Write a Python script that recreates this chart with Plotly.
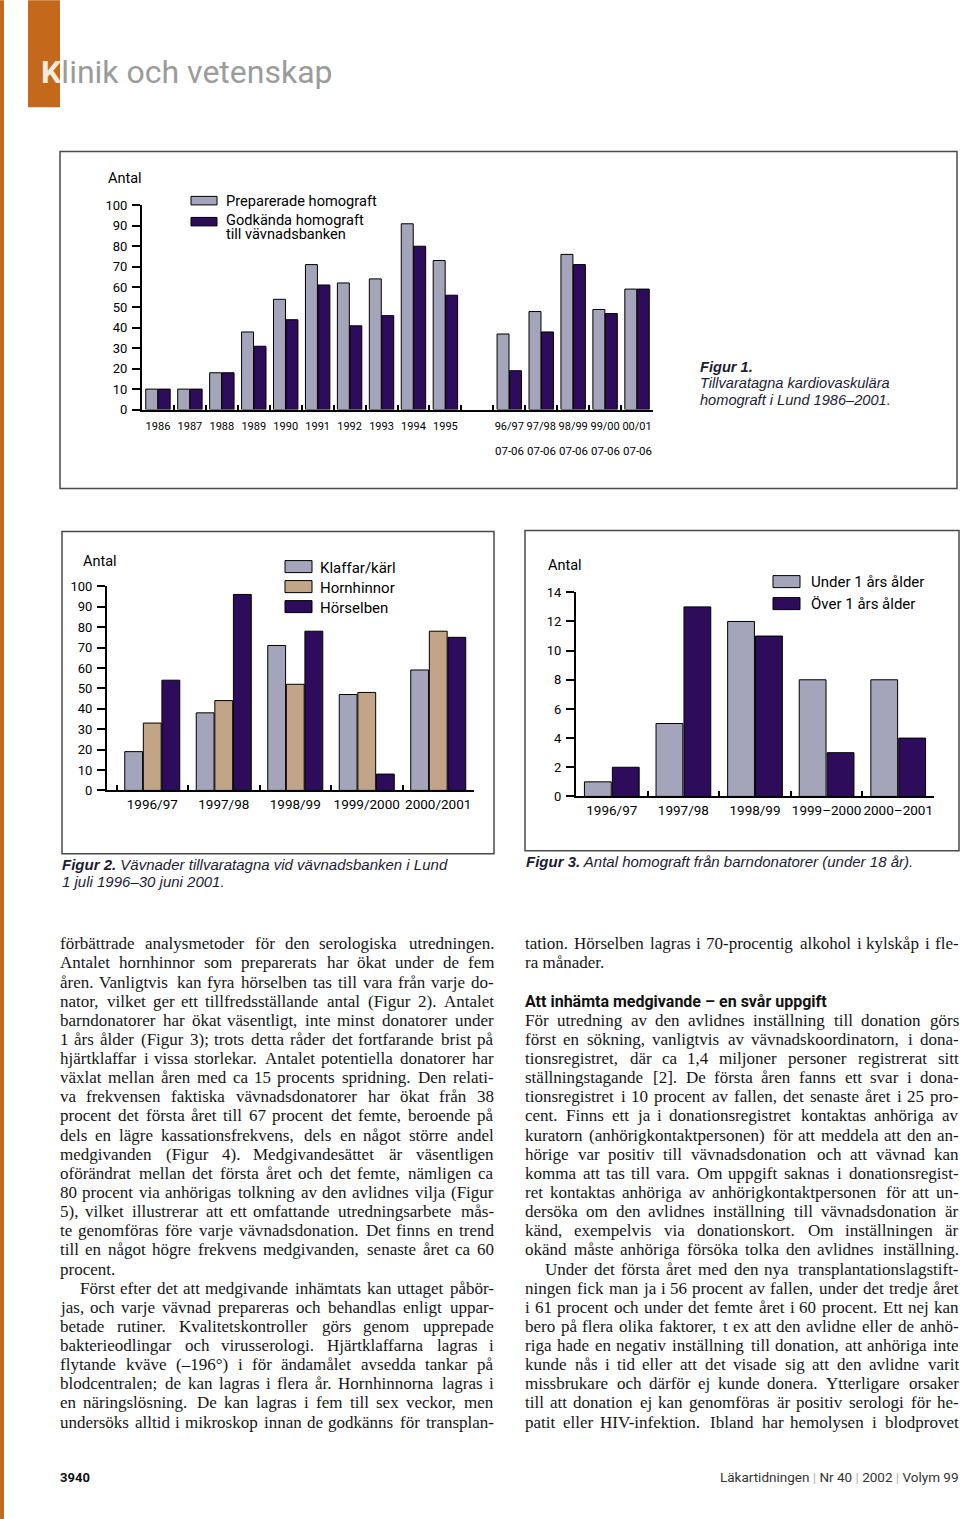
import plotly.graph_objects as go

W, H = 960, 1519
# the page photo shows a small vertical offset/scale; compensate it
Y_OFF, Y_SC = 6.7, 0.9896
def X(px):
    return px / W
def Y(py):
    return 1 - ((py - Y_OFF) / Y_SC) / H

# ---------------- data ----------------
fig1_years = ['1986', '1987', '1988', '1989', '1990', '1991', '1992', '1993', '1994', '1995']
fig1_gap = [' ']
fig1_seasons = ['96/97', '97/98', '98/99', '99/00', '00/01']
fig1_season_sub = ['07-06', '07-06', '07-06', '07-06', '07-06']
fig1_cats = fig1_years + fig1_gap + fig1_seasons
preparerade = [10, 10, 18, 38, 54, 71, 62, 64, 91, 73, None, 37, 48, 76, 49, 59]
godkanda = [10, 10, 18, 31, 44, 61, 41, 46, 80, 56, None, 19, 38, 71, 47, 59]
fig1_yticks = [0, 10, 20, 30, 40, 50, 60, 70, 80, 90, 100]

fig2_cats = ['1996/97', '1997/98', '1998/99', '1999/2000', '2000/2001']
klaffar = [19, 38, 71, 47, 59]
hornhinnor = [33, 44, 52, 48, 78]
horselben = [54, 96, 78, 8, 75]
fig2_yticks = [0, 10, 20, 30, 40, 50, 60, 70, 80, 90, 100]

fig3_cats = ['1996/97', '1997/98', '1998/99', '1999–2000', '2000–2001']
under1 = [1, 5, 12, 8, 8]
over1 = [2, 13, 11, 3, 4]
fig3_yticks = [0, 2, 4, 6, 8, 10, 12, 14]

left_lines = [
    "förbättrade analysmetoder för den serologiska utredningen.",
    "Antalet hornhinnor som preparerats har ökat under de fem",
    "åren. Vanligtvis kan fyra hörselben tas till vara från varje do-",
    "nator, vilket ger ett tillfredsställande antal (Figur 2). Antalet",
    "barndonatorer har ökat väsentligt, inte minst donatorer under",
    "1 års ålder (Figur 3); trots detta råder det fortfarande brist på",
    "hjärtklaffar i vissa storlekar. Antalet potentiella donatorer har",
    "växlat mellan åren med ca 15 procents spridning. Den relati-",
    "va frekvensen faktiska vävnadsdonatorer har ökat från 38",
    "procent det första året till 67 procent det femte, beroende på",
    "dels en lägre kassationsfrekvens, dels en något större andel",
    "medgivanden (Figur 4). Medgivandesättet är väsentligen",
    "oförändrat mellan det första året och det femte, nämligen ca",
    "80 procent via anhörigas tolkning av den avlidnes vilja (Figur",
    "5), vilket illustrerar att ett omfattande utredningsarbete mås-",
    "te genomföras före varje vävnadsdonation. Det finns en trend",
    "till en något högre frekvens medgivanden, senaste året ca 60",
    "procent.",
    "Först efter det att medgivande inhämtats kan uttaget påbör-",
    "jas, och varje vävnad prepareras och behandlas enligt uppar-",
    "betade rutiner. Kvalitetskontroller görs genom upprepade",
    "bakterieodlingar och virusserologi. Hjärtklaffarna lagras i",
    "flytande kväve (–196°) i för ändamålet avsedda tankar på",
    "blodcentralen; de kan lagras i flera år. Hornhinnorna lagras i",
    "en näringslösning. De kan lagras i fem till sex veckor, men",
    "undersöks alltid i mikroskop innan de godkänns för transplan-",
]
left_indent = {18}
left_nojust = {17}

right_heading = "Att inhämta medgivande – en svår uppgift"
right_lines = [
    "tation. Hörselben lagras i 70-procentig alkohol i kylskåp i fle-",
    "ra månader.",
    "",
    "",
    "För utredning av den avlidnes inställning till donation görs",
    "först en sökning, vanligtvis av vävnadskoordinatorn, i dona-",
    "tionsregistret, där ca 1,4 miljoner personer registrerat sitt",
    "ställningstagande [2]. De första åren fanns ett svar i dona-",
    "tionsregistret i 10 procent av fallen, det senaste året i 25 pro-",
    "cent. Finns ett ja i donationsregistret kontaktas anhöriga av",
    "kuratorn (anhörigkontaktpersonen) för att meddela att den an-",
    "hörige var positiv till vävnadsdonation och att vävnad kan",
    "komma att tas till vara. Om uppgift saknas i donationsregist-",
    "ret kontaktas anhöriga av anhörigkontaktpersonen för att un-",
    "dersöka om den avlidnes inställning till vävnadsdonation är",
    "känd, exempelvis via donationskort. Om inställningen är",
    "okänd måste anhöriga försöka tolka den avlidnes inställning.",
    "Under det första året med den nya transplantationslagstift-",
    "ningen fick man ja i 56 procent av fallen, under det tredje året",
    "i 61 procent och under det femte året i 60 procent. Ett nej kan",
    "bero på flera olika faktorer, t ex att den avlidne eller de anhö-",
    "riga hade en negativ inställning till donation, att anhöriga inte",
    "kunde nås i tid eller att det visade sig att den avlidne varit",
    "missbrukare och därför ej kunde donera. Ytterligare orsaker",
    "till att donation ej kan genomföras är positiv serologi för he-",
    "patit eller HIV-infektion. Ibland har hemolysen i blodprovet",
]
right_indent = {17}
right_nojust = {1}

# ---------------- styles ----------------
LIGHT = '#a4a4ba'
DARK = '#2d0c5c'
TAN = '#c2a487'
ORANGE = '#c4681c'
TICKF = 'Roboto, Liberation Sans, sans-serif'
SANS = 'Roboto, Liberation Sans, sans-serif'
CAP = 'Liberation Sans, Arial, sans-serif'
SERIF = 'Liberation Serif, Times New Roman, serif'
CAPCOL = '#1c1c34'
BODYSIZE = 17
LINE_PITCH = 19.12

fig = go.Figure()

def bar(x, y, color, xa, ya):
    return go.Bar(x=x, y=y, xaxis=xa, yaxis=ya, showlegend=False,
                  marker=dict(color=color, line=dict(color='black', width=1)),
                  hoverinfo='skip')

fig.add_trace(bar(fig1_cats, preparerade, LIGHT, 'x', 'y'))
fig.add_trace(bar(fig1_cats, godkanda, DARK, 'x', 'y'))
fig.add_trace(bar(fig2_cats, klaffar, LIGHT, 'x2', 'y2'))
fig.add_trace(bar(fig2_cats, hornhinnor, TAN, 'x2', 'y2'))
fig.add_trace(bar(fig2_cats, horselben, DARK, 'x2', 'y2'))
fig.add_trace(bar(fig3_cats, under1, LIGHT, 'x3', 'y3'))
fig.add_trace(bar(fig3_cats, over1, DARK, 'x3', 'y3'))

def xax(cats, dom, anchor, rng, size, standoff):
    return dict(type='category', categoryorder='array', categoryarray=cats,
                domain=[X(dom[0]), X(dom[1])], anchor=anchor, range=rng,
                showline=True, linecolor='black', linewidth=2,
                ticks='inside', ticklen=5, tickwidth=1.5, tickcolor='black',
                tickson='boundaries', showgrid=False, zeroline=False, tickangle=0,
                tickfont=dict(family=TICKF, size=size, color='black'),
                ticklabelstandoff=standoff, fixedrange=True)

def yax(dom, anchor, rng, tv, size):
    return dict(domain=[Y(dom[0]), Y(dom[1])], anchor=anchor, range=rng,
                tickvals=tv, showline=True, linecolor='black', linewidth=2,
                ticks='outside', ticklen=8, tickwidth=1.5, tickcolor='black',
                showgrid=False, zeroline=False,
                tickfont=dict(family=TICKF, size=size, color='black'),
                ticklabelstandoff=2, fixedrange=True)

fig.update_layout(
    width=W, height=H, margin=dict(l=0, r=0, t=0, b=0),
    paper_bgcolor='white', plot_bgcolor='white',
    barmode='group', bargap=0.22, bargroupgap=0.04,
    xaxis=xax(fig1_cats, (142, 653), 'y', [-0.5, 15.5], 11, 5),
    yaxis=yax((409, 205), 'x', [0, 100], fig1_yticks, 13),
    xaxis2=xax(fig2_cats, (107, 474), 'y2', [-0.633, 4.5], 13.5, 0),
    yaxis2=yax((789.7, 585.7), 'x2', [0, 100], fig2_yticks, 13),
    xaxis3=xax(fig3_cats, (576, 934), 'y3', [-0.5, 4.5], 13.5, 0),
    yaxis3=yax((795.7, 591.7), 'x3', [0, 14], fig3_yticks, 13),
)

shapes = []
ann = []

def rect(x0, y0, x1, y1, fill=None, line=None, lw=0):
    shapes.append(dict(type='rect', xref='paper', yref='paper',
                       x0=X(x0), x1=X(x1), y0=Y(y0), y1=Y(y1),
                       fillcolor=fill if fill else 'rgba(0,0,0,0)',
                       line=dict(color=line if line else 'rgba(0,0,0,0)', width=lw),
                       layer='below' if fill and not line else 'above'))

def text(x, y, t, size, family=SANS, color='black', xanchor='left', yanchor='middle'):
    ann.append(dict(xref='paper', yref='paper', x=X(x), y=Y(y), text=t,
                    showarrow=False, xanchor=xanchor, yanchor=yanchor,
                    font=dict(family=family, size=size, color=color),
                    borderpad=0, borderwidth=0))

# header
rect(0, 0, 4, H + 20, fill=ORANGE)
rect(28, 0, 60, 107, fill=ORANGE)
text(41, 72, "<b><span style='color:#f4ecd8'>K</span></b>linik och vetenskap", 32,
     family=SANS, color='#9b9b9b')

# figure boxes
rect(60, 151, 957, 488, line='#4a4a4a', lw=1.5)
rect(62, 531, 494, 853, line='#4a4a4a', lw=1.5)
rect(525, 530, 959, 850, line='#4a4a4a', lw=1.5)

# figure 1 texts
text(108, 178, 'Antal', 14.5)
rect(191, 196, 217, 204.5, fill=LIGHT, line='black', lw=1)
rect(191, 217, 217, 225.5, fill=DARK, line='black', lw=1)
text(226, 201, 'Preparerade homograft', 14.6)
text(226, 220, 'Godkända homograft', 14.6)
text(226, 234, 'till vävnadsbanken', 14.6)
for s, sub in zip(fig1_seasons, fig1_season_sub):
    ann.append(dict(xref='x', yref='paper', x=s, y=Y(450), text=sub, showarrow=False,
                    xanchor='center', yanchor='middle',
                    font=dict(family=TICKF, size=11.5, color='black')))
text(700, 367, '<b><i>Figur 1.</i></b>', 14.6, family=CAP, color=CAPCOL)
text(700, 383, '<i>Tillvaratagna kardiovaskulära</i>', 14.6, family=CAP, color=CAPCOL)
text(700, 399, '<i>homograft i Lund 1986–2001.</i>', 14.6, family=CAP, color=CAPCOL)

# figure 2 texts
text(83, 561, 'Antal', 14.5)
for yy, col, lab in [(566, LIGHT, 'Klaffar/kärl'), (586, TAN, 'Hornhinnor'), (606, DARK, 'Hörselben')]:
    rect(285, yy - 6, 312, yy + 6, fill=col, line='black', lw=1)
    text(320, yy + 1, lab, 15)
text(62, 864, '<b><i>Figur 2.</i></b><i> Vävnader tillvaratagna vid vävnadsbanken i Lund</i>',
     15, family=CAP, color=CAPCOL)
text(62, 881, '<i>1 juli 1996–30 juni 2001.</i>', 15, family=CAP, color=CAPCOL)

# figure 3 texts
text(548, 565, 'Antal', 14.5)
for yy, col, lab in [(581, LIGHT, 'Under 1 års ålder'), (603, DARK, 'Över 1 års ålder')]:
    rect(773, yy - 6, 800, yy + 6, fill=col, line='black', lw=1)
    text(811, yy, lab, 15)
text(526, 861, '<b><i>Figur 3.</i></b><i> Antal homograft från barndonatorer (under 18 år).</i>',
     15, family=CAP, color=CAPCOL)

# body text (justified using Times metrics)
TW = {}
TW.update(dict(zip('abcdefghijklmnopqrstuvwxyz',
                   [444, 500, 444, 500, 444, 333, 500, 500, 278, 278, 500, 278, 778,
                    500, 500, 500, 500, 333, 389, 278, 500, 500, 722, 500, 500, 444])))
TW.update(dict(zip('ABCDEFGHIJKLMNOPQRSTUVWXYZ',
                   [722, 667, 667, 722, 611, 556, 722, 722, 333, 389, 722, 611, 889,
                    722, 722, 556, 722, 667, 556, 611, 722, 722, 944, 722, 722, 611])))
TW.update({'å': 444, 'ä': 444, 'ö': 500, 'é': 444, 'Å': 722, 'Ä': 722, 'Ö': 722,
           ' ': 250, '.': 250, ',': 250, ';': 278, ':': 278, '-': 333, '–': 500,
           '(': 333, ')': 333, '[': 333, ']': 333, '°': 400, '/': 278})
for d in '0123456789':
    TW[d] = 500

def tw(s):
    return sum(TW.get(c, 500) for c in s) * BODYSIZE / 1000.0 * 1.02

def body_line(line, x0, x1, y, justify):
    words = line.split(' ')
    if not justify or len(words) < 2:
        text(x0, y, line, BODYSIZE, family=SERIF, color='#151515')
        return
    widths = [tw(w) for w in words]
    gap = (x1 - x0 - sum(widths)) / (len(words) - 1)
    gap = max(gap, 2.5)
    xc = x0
    for i, (w, wd) in enumerate(zip(words, widths)):
        if i == len(words) - 1:
            text(x1, y, w, BODYSIZE, family=SERIF, color='#151515', xanchor='right')
        else:
            text(xc, y, w, BODYSIZE, family=SERIF, color='#151515')
        xc += wd + gap

def column(lines, x0, x1, indent, nojust):
    for i, line in enumerate(lines):
        if not line:
            continue
        y = 943 + i * LINE_PITCH
        xs = x0 + (20 if i in indent else 0)
        body_line(line, xs, x1, y, i not in nojust)

column(left_lines, 60, 494, left_indent, left_nojust)
column(right_lines, 525, 959, right_indent, right_nojust)
text(525, 943 + 3 * LINE_PITCH, '<b>' + right_heading + '</b>', 16, family=SANS, color='#111')

# footer
text(60, 1476, '<b>3940</b>', 13, family=SANS, color='#111')
SEP = " <span style='color:#b0b0b0'>|</span> "
text(959, 1476, 'Läkartidningen' + SEP + 'Nr 40' + SEP + '2002' + SEP + 'Volym 99', 13.5,
     family=SANS, color='#333', xanchor='right')

fig.update_layout(shapes=shapes, annotations=ann)
fig.write_html('out.html', config={'displayModeBar': False},
               post_script="document.body.style.margin='0';document.body.style.padding='0';"
                           "document.documentElement.style.overflow='hidden';")
